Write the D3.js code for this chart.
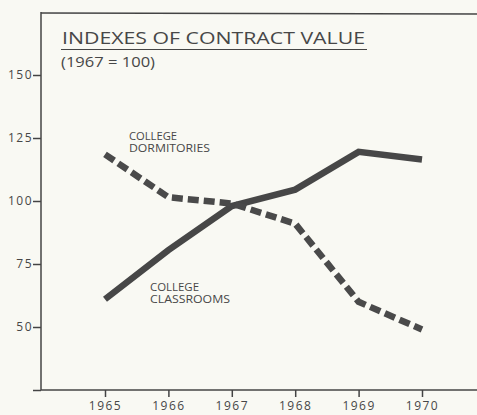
<!DOCTYPE html>
<html>
<head>
<meta charset="utf-8">
<script src="https://cdn.jsdelivr.net/npm/d3@7"></script>
<style>
  html, body { margin: 0; padding: 0; background: #f9f9f3; }
  svg { display: block; }
  text { font-family: "Open Sans", "DejaVu Sans", sans-serif; font-weight: 400; fill: #474747; }
</style>
</head>
<body>
<script>
// Contract value indexes, 1967 = 100
const years = [1965, 1966, 1967, 1968, 1969, 1970];
const classrooms = [61, 80.5, 98, 104.5, 119.5, 116.5];
const dormitories = [118.5, 101.5, 99, 91, 60, 49];
const yTicks = [25, 50, 75, 100, 125, 150];
const yTickLabels = ["", "50", "75", "100", "125", "150"];

const W = 477, H = 415;
const svg = d3.select("body").append("svg").attr("width", W).attr("height", H);

const x = d3.scaleLinear().domain([1965, 1970]).range([105, 422]);
const y = d3.scaleLinear().domain([25, 175]).range([390, 12]);
const axisX = 41;
const ink = "#444";

// frame: top rule, left axis, bottom axis
svg.append("line").attr("x1", axisX).attr("x2", W).attr("y1", 13).attr("y2", 14)
  .attr("stroke", ink).attr("stroke-width", 1.6);

const gy = svg.append("g").attr("transform", `translate(${axisX},0)`)
  .call(d3.axisLeft(y).tickValues(yTicks)
    .tickFormat((d, i) => yTickLabels[i]).tickSize(8).tickPadding(1));
gy.select(".domain").attr("d", `M0,${y(175)}V${y(25)}`);

const gx = svg.append("g").attr("transform", `translate(0,${y(25)})`)
  .call(d3.axisBottom(x).tickValues(years).tickFormat(d3.format("d")).tickSize(7).tickPadding(4));
gx.select(".domain").attr("d", `M${axisX},0H${W}`);

[gx, gy].forEach(g => {
  g.selectAll(".domain, .tick line").attr("stroke", ink).attr("stroke-width", 1.5);
  g.selectAll(".tick text").attr("font-family", "'Open Sans', sans-serif")
    .attr("font-weight", 400).attr("font-size", 12).attr("fill", "#505050")
    .attr("letter-spacing", "1.5px");
});
gy.selectAll(".tick text").attr("dx", "1px");

// series lines
const line = d3.line().x((d, i) => x(years[i])).y(d => y(d));

svg.append("path").datum(classrooms).attr("d", line)
  .attr("fill", "none").attr("stroke", "#474747").attr("stroke-width", 6.5)
  .attr("stroke-linejoin", "miter");

svg.append("path").datum(dormitories).attr("d", line)
  .attr("fill", "none").attr("stroke", "#4a4a4a").attr("stroke-width", 6.5)
  .attr("stroke-dasharray", "11,5").attr("stroke-linejoin", "miter");

// title
svg.append("text").attr("x", 62).attr("y", 44).attr("font-size", 17)
  .attr("textLength", 303).attr("lengthAdjust", "spacingAndGlyphs")
  .text("INDEXES OF CONTRACT VALUE");
svg.append("line").attr("x1", 61).attr("x2", 367).attr("y1", 49.5).attr("y2", 49.5)
  .attr("stroke", ink).attr("stroke-width", 1.2);
svg.append("text").attr("x", 61).attr("y", 66.5).attr("font-size", 15)
  .attr("textLength", 94).attr("lengthAdjust", "spacingAndGlyphs")
  .text("(1967 = 100)");

// series labels
function label(x0, y0, lines, widths) {
  lines.forEach((t, i) => {
    svg.append("text").attr("x", x0).attr("y", y0 + i * 12.5).attr("font-size", 10.5)
      .attr("textLength", widths[i]).attr("lengthAdjust", "spacingAndGlyphs").text(t);
  });
}
label(129, 139.5, ["COLLEGE", "DORMITORIES"], [48, 81]);
label(150, 290.5, ["COLLEGE", "CLASSROOMS"], [49, 80]);
</script>
</body>
</html>
